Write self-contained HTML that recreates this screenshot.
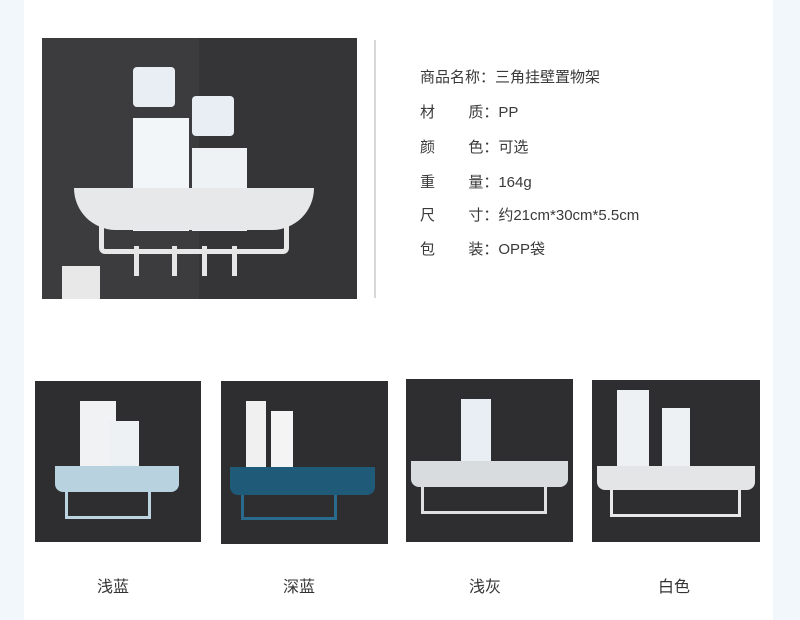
<!DOCTYPE html>
<html><head><meta charset="utf-8"><style>
body{margin:0;width:800px;height:620px;background:#fff;position:relative;overflow:hidden;font-family:"Liberation Sans","Noto Sans CJK SC",sans-serif;}
.a{position:absolute}
.img{position:absolute;background:#2e2e30;overflow:hidden}
.t{position:absolute;font-size:15px;color:#3a3a3a;white-space:nowrap}
.lab{position:absolute;font-size:16px;color:#333;top:573px}
</style></head><body>
<div class="a" style="left:0;top:0;width:24px;height:620px;background:#f2f7fc"></div>
<div class="a" style="left:773px;top:0;width:27px;height:620px;background:#f2f7fc"></div>

<!-- main image -->
<div class="img" style="left:42px;top:38px;width:315px;height:261px;background:#3c3c3e">
 <div class="a" style="left:157px;top:0;width:158px;height:261px;background:#353537"></div>
 <div class="a" style="left:91px;top:29px;width:42px;height:40px;background:#e8eef3;border-radius:4px"></div>
 <div class="a" style="left:91px;top:80px;width:56px;height:113px;background:#f3f6f8"></div>
 <div class="a" style="left:150px;top:58px;width:42px;height:40px;background:#e8eef3;border-radius:4px"></div>
 <div class="a" style="left:150px;top:110px;width:55px;height:83px;background:#eef2f5"></div>
 <div class="a" style="left:32px;top:150px;width:240px;height:42px;background:#e6e8ea;border-radius:0 0 60px 60px"></div>
 <div class="a" style="left:57px;top:186px;width:180px;height:25px;border:5px solid #e8e8e8;border-top:none;border-radius:0 0 6px 6px"></div>
 <div class="a" style="left:92px;top:208px;width:5px;height:30px;background:#e6e6e6"></div>
 <div class="a" style="left:130px;top:208px;width:5px;height:30px;background:#e6e6e6"></div>
 <div class="a" style="left:160px;top:208px;width:5px;height:30px;background:#e6e6e6"></div>
 <div class="a" style="left:190px;top:208px;width:5px;height:30px;background:#e6e6e6"></div>
 <div class="a" style="left:20px;top:228px;width:38px;height:33px;background:#e8e8e8"></div>
</div>
<div class="a" style="left:374px;top:40px;width:2px;height:258px;background:#d8d8d8"></div>

<div class="t" style="left:420px;top:66px">商品名称：三角挂壁置物架</div>
<div class="t" style="left:420px;top:101px">材&nbsp;&nbsp;&nbsp;&nbsp;&nbsp;&nbsp;&nbsp;&nbsp;质：PP</div>
<div class="t" style="left:420px;top:136px">颜&nbsp;&nbsp;&nbsp;&nbsp;&nbsp;&nbsp;&nbsp;&nbsp;色：可选</div>
<div class="t" style="left:420px;top:171px">重&nbsp;&nbsp;&nbsp;&nbsp;&nbsp;&nbsp;&nbsp;&nbsp;量：164g</div>
<div class="t" style="left:420px;top:204px">尺&nbsp;&nbsp;&nbsp;&nbsp;&nbsp;&nbsp;&nbsp;&nbsp;寸：约21cm*30cm*5.5cm</div>
<div class="t" style="left:420px;top:238px">包&nbsp;&nbsp;&nbsp;&nbsp;&nbsp;&nbsp;&nbsp;&nbsp;装：OPP袋</div>

<!-- small images -->
<div class="img" style="left:35px;top:381px;width:166px;height:161px">
 <div class="a" style="left:45px;top:20px;width:36px;height:68px;background:#f0f2f4"></div>
 <div class="a" style="left:74px;top:40px;width:30px;height:48px;background:#eef1f4"></div>
 <div class="a" style="left:20px;top:85px;width:124px;height:26px;background:#b8d2e0;border-radius:0 0 8px 8px"></div>
 <div class="a" style="left:30px;top:111px;width:80px;height:24px;border:3px solid #bcd4e2;border-top:none"></div>
</div>
<div class="img" style="left:221px;top:381px;width:167px;height:163px">
 <div class="a" style="left:25px;top:20px;width:20px;height:66px;background:#f0f0f0"></div>
 <div class="a" style="left:50px;top:30px;width:22px;height:56px;background:#f4f4f4"></div>
 <div class="a" style="left:9px;top:86px;width:145px;height:28px;background:#1f5a78;border-radius:0 0 8px 8px"></div>
 <div class="a" style="left:20px;top:114px;width:90px;height:22px;border:3px solid #2a6a8c;border-top:none"></div>
</div>
<div class="img" style="left:406px;top:379px;width:167px;height:163px">
 <div class="a" style="left:55px;top:20px;width:30px;height:62px;background:#e8eef3"></div>
 <div class="a" style="left:5px;top:82px;width:157px;height:26px;background:#d9dcdf;border-radius:0 0 8px 8px"></div>
 <div class="a" style="left:15px;top:108px;width:120px;height:24px;border:3px solid #e0e0e0;border-top:none"></div>
</div>
<div class="img" style="left:592px;top:380px;width:168px;height:162px">
 <div class="a" style="left:25px;top:10px;width:32px;height:76px;background:#eef1f3"></div>
 <div class="a" style="left:70px;top:28px;width:28px;height:58px;background:#eef1f3"></div>
 <div class="a" style="left:5px;top:86px;width:158px;height:24px;background:#e4e5e7;border-radius:0 0 8px 8px"></div>
 <div class="a" style="left:18px;top:110px;width:125px;height:24px;border:3px solid #e8e8e8;border-top:none"></div>
</div>

<div class="lab" style="left:97px">浅蓝</div>
<div class="lab" style="left:283px">深蓝</div>
<div class="lab" style="left:469px">浅灰</div>
<div class="lab" style="left:658px">白色</div>
</body></html>
